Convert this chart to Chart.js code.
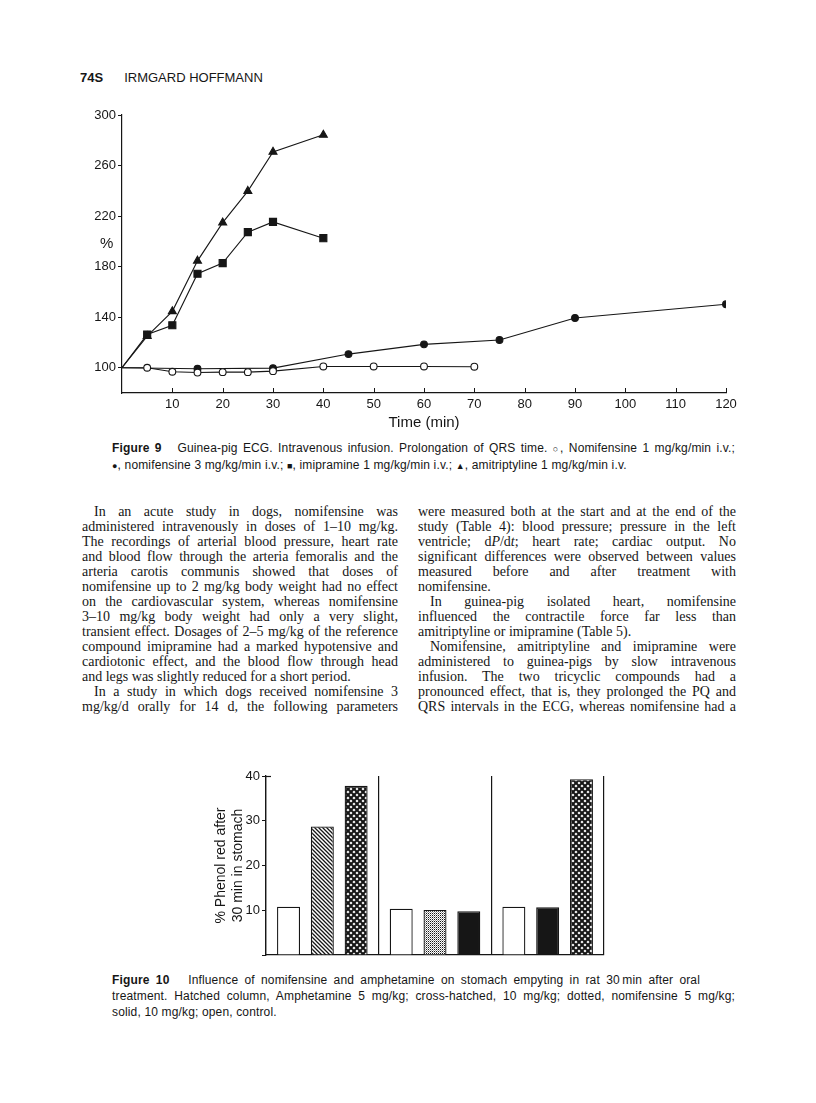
<!DOCTYPE html>
<html>
<head>
<meta charset="utf-8">
<script src="https://cdn.jsdelivr.net/npm/chart.js@4.4.1/dist/chart.umd.min.js"></script>
<style>
  html, body { margin: 0; padding: 0; background: #fff; }
  body { width: 816px; height: 1103px; position: relative; overflow: hidden; color: #161616; font-family: "Liberation Sans", Arial, sans-serif; }
  .abs { position: absolute; }
  #head { left: 80px; top: 70px; font-size: 13px; white-space: nowrap; }
  #head b { margin-right: 21px; }
  .cap { left: 112px; font-size: 12px; line-height: 16px; letter-spacing: 0.15px; }
  .cap div { white-space: nowrap; }
  .cap .j { text-align: justify; text-align-last: justify; }
  .sym { font-size: 9px; }
  .col { font-family: "Liberation Serif", "Times New Roman", serif; font-size: 14px; line-height: 15px; width: 316px; }
  .ln { text-align: justify; text-align-last: justify; }
  .ln.l { text-align-last: left; }
  .ln.i { text-indent: 12px; }
  #pct { left: 100px; top: 234px; font-size: 15px; }
</style>
</head>
<body>

<div id="head" class="abs"><b>74S</b>IRMGARD HOFFMANN</div>

<div class="abs" style="left:40px; top:100px; width:710px; height:340px;">
  <canvas id="fig9" width="710" height="340"></canvas>
</div>
<div id="pct" class="abs">%</div>

<div class="abs cap" style="top:440px;">
  <div class="j" style="width:623px;"><b>Figure 9</b>&nbsp;&nbsp; Guinea-pig ECG. Intravenous infusion. Prolongation of QRS time. <span class="sym">○</span>, Nomifensine 1 mg/kg/min i.v.;</div>
  <div><span class="sym">●</span>, nomifensine 3 mg/kg/min i.v.; <span class="sym">■</span>, imipramine 1 mg/kg/min i.v.; <span class="sym">▲</span>, amitriptyline 1 mg/kg/min i.v.</div>
</div>

<div class="abs col" style="left:82px; top:504px;">
  <div class="ln i">In an acute study in dogs, nomifensine was</div>
  <div class="ln">administered intravenously in doses of 1–10 mg/kg.</div>
  <div class="ln">The recordings of arterial blood pressure, heart rate</div>
  <div class="ln">and blood flow through the arteria femoralis and the</div>
  <div class="ln">arteria carotis communis showed that doses of</div>
  <div class="ln">nomifensine up to 2 mg/kg body weight had no effect</div>
  <div class="ln">on the cardiovascular system, whereas nomifensine</div>
  <div class="ln">3–10 mg/kg body weight had only a very slight,</div>
  <div class="ln">transient effect. Dosages of 2–5 mg/kg of the reference</div>
  <div class="ln">compound imipramine had a marked hypotensive and</div>
  <div class="ln">cardiotonic effect, and the blood flow through head</div>
  <div class="ln l">and legs was slightly reduced for a short period.</div>
  <div class="ln i">In a study in which dogs received nomifensine 3</div>
  <div class="ln">mg/kg/d orally for 14 d, the following parameters</div>
</div>

<div class="abs col" style="left:418px; top:504px; width:318px;">
  <div class="ln">were measured both at the start and at the end of the</div>
  <div class="ln">study (Table 4): blood pressure; pressure in the left</div>
  <div class="ln">ventricle; d<i>P</i>/d<i>t</i>; heart rate; cardiac output. No</div>
  <div class="ln">significant differences were observed between values</div>
  <div class="ln">measured before and after treatment with</div>
  <div class="ln l">nomifensine.</div>
  <div class="ln i">In guinea-pig isolated heart, nomifensine</div>
  <div class="ln">influenced the contractile force far less than</div>
  <div class="ln l">amitriptyline or imipramine (Table 5).</div>
  <div class="ln i">Nomifensine, amitriptyline and imipramine were</div>
  <div class="ln">administered to guinea-pigs by slow intravenous</div>
  <div class="ln">infusion. The two tricyclic compounds had a</div>
  <div class="ln">pronounced effect, that is, they prolonged the PQ and</div>
  <div class="ln">QRS intervals in the ECG, whereas nomifensine had a</div>
</div>

<div class="abs" style="left:180px; top:765px; width:440px; height:200px;">
  <canvas id="fig10" width="440" height="200"></canvas>
</div>

<div class="abs cap" style="top:972px;">
  <div class="j" style="width:588px;"><b>Figure 10</b>&nbsp;&nbsp; Influence of nomifensine and amphetamine on stomach empyting in rat 30&#8201;min after oral</div>
  <div class="j" style="width:623px;">treatment. Hatched column, Amphetamine 5 mg/kg; cross-hatched, 10 mg/kg; dotted, nomifensine 5 mg/kg;</div>
  <div>solid, 10 mg/kg; open, control.</div>
</div>

<script>
// ---- Figure 9: QRS time (% of initial) during infusion ----
const yTicks9 = [100, 140, 180, 220, 260, 300];

// open circles, nomifensine 1 mg/kg/min
const nomi1Min = [0, 5, 10, 15, 20, 25, 30, 40, 50, 60, 70];
const nomi1Pct = [100, 100, 96.8, 96.2, 96.5, 96.5, 97.3, 101, 101, 101, 100.8];

// filled circles, nomifensine 3 mg/kg/min
const nomi3Min = [0, 15, 30, 45, 60, 75, 90, 120];
const nomi3Pct = [100, 99.2, 99.7, 110.8, 118.5, 122, 139.4, 150.2];

// squares, imipramine 1 mg/kg/min
const imiMin = [0, 5, 10, 15, 20, 25, 30, 40];
const imiPct = [100, 126.3, 133.6, 174.4, 182.8, 207.3, 215.4, 202.5];

// triangles, amitriptyline 1 mg/kg/min
const amiMin = [0, 5, 10, 15, 20, 25, 30, 40];
const amiPct = [100, 125, 144.6, 184.6, 214.8, 239.8, 270.8, 284.3];

// ---- Figure 10: % phenol red in stomach after 30 min ----
const groupLabels = ['Amphetamine', 'Nomifensine', 'Nomifensine / amphetamine'];
const slot1Pct = [10.8, 10.35, 10.8];
const slot2Pct = [28.7, 10.05, 10.65];
const slot3Pct = [37.8, 9.8, 39.3];
const yTitle10 = ['% Phenol red after', '30 min in stomach'];

const ink = '#161616';
const tickFont = { family: 'Liberation Sans', size: 13 };

function pts(xs, ys) {
  return xs.map((x, i) => ({ x: x, y: ys[i] }));
}

// hide the marker at the common origin (0, 100)
const skipFirst = r => ctx => ctx.dataIndex === 0 ? 0 : r;

const innerTicks = {
  id: 'innerTicks',
  afterDraw(chart) {
    const sx = chart.scales.x;
    const b = chart.chartArea.bottom;
    const ctx = chart.ctx;
    ctx.save();
    ctx.strokeStyle = ink;
    ctx.lineWidth = 1;
    sx.ticks.forEach(t => {
      if (t.value === 0) return;
      const px = Math.round(sx.getPixelForValue(t.value)) + 0.5;
      ctx.beginPath();
      ctx.moveTo(px, b);
      ctx.lineTo(px, b - 5);
      ctx.stroke();
    });
    ctx.restore();
  }
};

const lineBase = { borderColor: ink, borderWidth: 1.1, pointBorderColor: ink, pointBorderWidth: 1.1, tension: 0 };

new Chart(document.getElementById('fig9'), {
  type: 'line',
  data: {
    datasets: [
      Object.assign({ label: 'Nomifensine 1 mg/kg/min', data: pts(nomi1Min, nomi1Pct), pointStyle: 'circle', pointRadius: skipFirst(3.4), pointBackgroundColor: '#fff' }, lineBase),
      Object.assign({ label: 'nomifensine 3 mg/kg/min', data: pts(nomi3Min, nomi3Pct), pointStyle: 'circle', pointRadius: skipFirst(3.4), pointBackgroundColor: ink }, lineBase),
      Object.assign({ label: 'imipramine 1 mg/kg/min', data: pts(imiMin, imiPct), pointStyle: 'rect', pointRadius: skipFirst(5), pointBackgroundColor: ink }, lineBase),
      Object.assign({ label: 'amitriptyline 1 mg/kg/min', data: pts(amiMin, amiPct), pointStyle: 'triangle', pointRadius: skipFirst(4.6), pointBackgroundColor: ink }, lineBase)
    ]
  },
  options: {
    responsive: false,
    animation: false,
    devicePixelRatio: 1,
    layout: { padding: { top: 15, right: 24, left: 0, bottom: 0 } },
    plugins: { legend: { display: false }, tooltip: { enabled: false } },
    scales: {
      x: {
        type: 'linear', min: 0, max: 120,
        afterFit: s => { s.height = 47; },
        ticks: { stepSize: 10, padding: 4, autoSkip: false, maxRotation: 0, color: ink, font: tickFont,
                 callback: v => v === 0 ? '' : v },
        grid: { drawOnChartArea: false, drawTicks: false },
        border: { color: ink, width: 1.2 },
        title: { display: true, text: 'Time (min)', color: ink, font: { family: 'Liberation Sans', size: 15 }, padding: { top: 0, bottom: 8 } }
      },
      y: {
        min: 80, max: 300,
        afterFit: s => { s.width = 82; },
        afterBuildTicks: s => { s.ticks = yTicks9.map(v => ({ value: v })); },
        ticks: { padding: 2, color: ink, font: tickFont },
        grid: { drawOnChartArea: false, tickLength: 4, color: ink },
        border: { color: ink, width: 1.2 }
      }
    }
  },
  plugins: [innerTicks]
});

// fills for the columns
function makePattern(kind) {
  const c = document.createElement('canvas');
  const g = c.getContext('2d');
  if (kind === 'hatch') {
    c.width = c.height = 4;
    g.fillStyle = '#fff'; g.fillRect(0, 0, 4, 4);
    g.strokeStyle = ink; g.lineWidth = 1.3;
    g.beginPath();
    g.moveTo(-1, -1); g.lineTo(5, 5);
    g.moveTo(-1, 3); g.lineTo(1, 5);
    g.moveTo(3, -1); g.lineTo(5, 1);
    g.stroke();
  } else if (kind === 'cross') {
    c.width = c.height = 6;
    g.fillStyle = '#fff'; g.fillRect(0, 0, 6, 6);
    g.strokeStyle = ink; g.lineWidth = 2.1;
    g.beginPath();
    g.moveTo(0, 0); g.lineTo(6, 6);
    g.moveTo(6, 0); g.lineTo(0, 6);
    g.stroke();
  } else {
    c.width = c.height = 2;
    g.fillStyle = '#fff'; g.fillRect(0, 0, 2, 2);
    g.fillStyle = ink; g.fillRect(0, 0, 1, 1);
    g.fillStyle = '#999'; g.fillRect(1, 1, 1, 1);
  }
  return g.createPattern(c, 'repeat');
}
const hatch = makePattern('hatch');
const cross = makePattern('cross');
const dots = makePattern('dots');

const topCorner = {
  id: 'topCorner',
  afterDraw(chart) {
    const a = chart.chartArea, ctx = chart.ctx;
    ctx.save();
    ctx.strokeStyle = ink; ctx.lineWidth = 1.2;
    ctx.beginPath();
    ctx.moveTo(a.left, a.top + 0.5);
    ctx.lineTo(a.left + 5, a.top + 0.5);
    ctx.stroke();
    ctx.restore();
  }
};

const barBase = { borderColor: ink, borderWidth: 1.3, borderSkipped: 'bottom' };

new Chart(document.getElementById('fig10'), {
  type: 'bar',
  data: {
    labels: groupLabels,
    datasets: [
      Object.assign({ label: 'control', data: slot1Pct, backgroundColor: ['#fff', '#fff', '#fff'] }, barBase),
      Object.assign({ label: 'treatment 1', data: slot2Pct, backgroundColor: [hatch, dots, ink] }, barBase),
      Object.assign({ label: 'treatment 2', data: slot3Pct, backgroundColor: [cross, ink, cross] }, barBase)
    ]
  },
  options: {
    responsive: false,
    animation: false,
    devicePixelRatio: 1,
    layout: { padding: { top: 11, right: 16, left: 0, bottom: 0 } },
    plugins: { legend: { display: false }, tooltip: { enabled: false } },
    datasets: { bar: { categoryPercentage: 0.9, barPercentage: 0.68 } },
    scales: {
      x: {
        offset: true,
        afterFit: s => { s.height = 10; },
        ticks: { display: false },
        grid: { offset: true, color: ink, lineWidth: 1.2, drawTicks: false },
        border: { color: ink, width: 1.3 }
      },
      y: {
        min: 0, max: 40,
        afterFit: s => { s.width = 86; },
        ticks: { stepSize: 10, padding: 2, color: ink, font: tickFont, callback: v => v === 0 ? '' : v },
        grid: { drawOnChartArea: false, tickLength: 4, color: ink },
        border: { color: ink, width: 1.3 },
        title: { display: true, text: yTitle10, color: ink, font: { family: 'Liberation Sans', size: 14, lineHeight: 1.2 }, padding: { top: 33, bottom: 0 } }
      }
    }
  },
  plugins: [topCorner]
});

// squeeze any text line that would wrap
document.querySelectorAll('.ln').forEach(el => {
  if (el.offsetHeight > 20) {
    el.style.whiteSpace = 'nowrap';
    el.style.textAlignLast = 'left';
    const k = el.clientWidth / el.scrollWidth;
    el.style.transform = 'scaleX(' + k + ')';
    el.style.transformOrigin = 'left';
  }
});
</script>
</body>
</html>
